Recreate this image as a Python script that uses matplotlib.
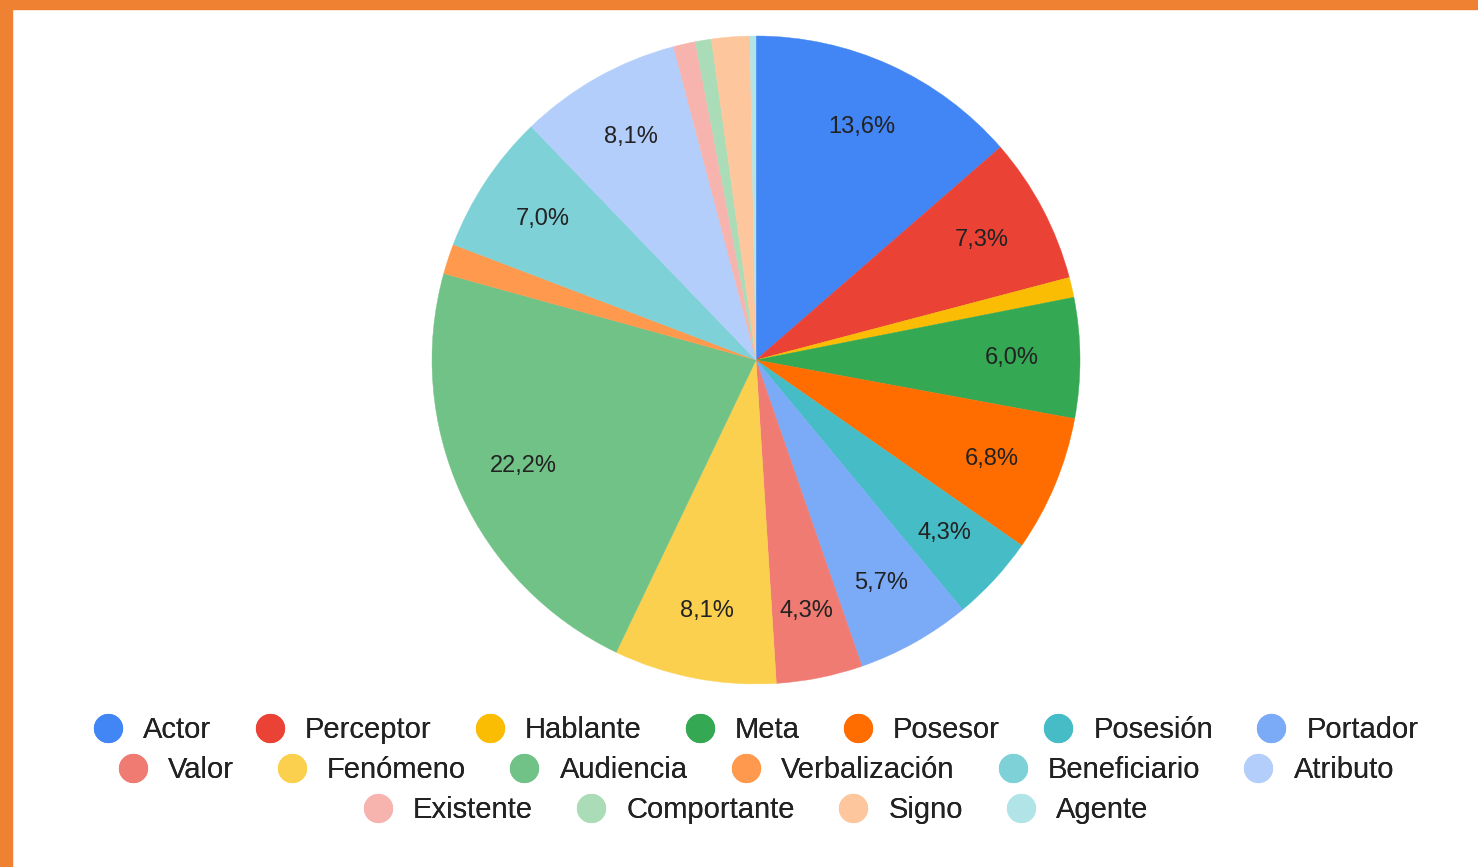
import matplotlib.pyplot as plt
from matplotlib.lines import Line2D
from matplotlib.patches import Rectangle

plt.rcParams['font.family'] = ['Liberation Sans', 'DejaVu Sans']

labels = ['Actor', 'Perceptor', 'Hablante', 'Meta', 'Posesor', 'Posesión', 'Portador',
          'Valor', 'Fenómeno', 'Audiencia', 'Verbalización', 'Beneficiario', 'Atributo',
          'Existente', 'Comportante', 'Signo', 'Agente']
values = [13.6, 7.3, 1.0, 6.0, 6.8, 4.3, 5.7,
          4.3, 8.1, 22.2, 1.5, 7.0, 8.1,
          1.1, 0.8, 1.9, 0.3]
colors = ['#4285F4', '#EA4335', '#FBBC04', '#34A853', '#FF6D01', '#46BDC6', '#7BAAF7',
          '#F07B72', '#FCD04F', '#71C287', '#FF994D', '#7ED1D7', '#B3CEFB',
          '#F7B4AE', '#AADCB7', '#FDC69C', '#B1E4E7']
legend_rows = [7, 6, 4]

W, H = 1478, 867
fig = plt.figure(figsize=(W / 100, H / 100), dpi=100)
fig.patch.set_facecolor('white')

# orange frame (top and left only)
fig.patches.append(Rectangle((0, 1 - 9 / H), 1, 9 / H, transform=fig.transFigure,
                             color='#EF8232', zorder=0))
fig.patches.append(Rectangle((0, 0), 12 / W, 1, transform=fig.transFigure,
                             color='#EF8232', zorder=0))

cx, cy, r = 756, 360, 324
ax = fig.add_axes([(cx - r) / W, (H - cy - r) / H, 2 * r / W, 2 * r / H])


def fmt(pct):
    if pct < 4:
        return ''
    return f'{pct:.1f}%'.replace('.', ',')


wedges, texts, autotexts = ax.pie(values, colors=colors, startangle=90, counterclock=False,
                                  autopct=fmt, pctdistance=0.79,
                                  wedgeprops=dict(linewidth=0.3),
                                  textprops=dict(fontsize=17, color='#222222'))
for w in wedges:
    w.set_edgecolor(w.get_facecolor())
ax.set_xlim(-1, 1)
ax.set_ylim(-1, 1)
ax.set_aspect('equal')
ax.axis('off')

handles = [Line2D([], [], marker='o', linestyle='', markersize=20,
                  markerfacecolor=c, markeredgecolor=c) for c in colors]

start = 0
row_y = [730, 770, 810]
for n, y in zip(legend_rows, row_y):
    leg = fig.legend(handles[start:start + n], labels[start:start + n], ncol=n,
                     loc='center', bbox_to_anchor=(cx / W, 1 - y / H),
                     frameon=False, fontsize=21, handlelength=1.0,
                     handletextpad=0.7, columnspacing=1.5, borderpad=0,
                     labelcolor='#222222')
    fig.add_artist(leg)
    start += n

fig.savefig('out.png', dpi=100)
